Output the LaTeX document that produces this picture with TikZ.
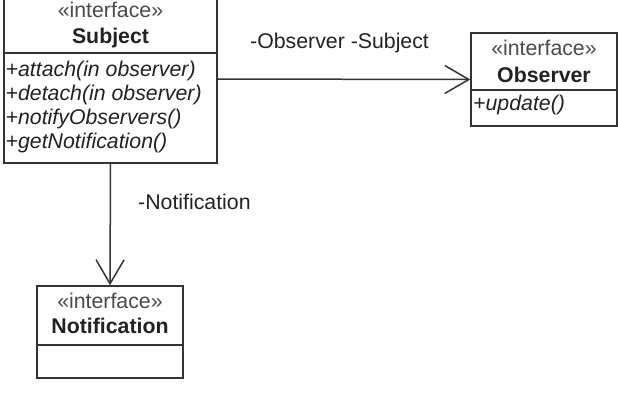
\documentclass[tikz,border=0pt]{standalone}
\usepackage{fontspec}
\setmainfont{Liberation Sans}
\usetikzlibrary{arrows.meta}
\definecolor{linegray}{HTML}{333333}
\definecolor{textgray}{HTML}{222222}
\definecolor{stereogray}{HTML}{4A4A4A}
\begin{document}
\begin{tikzpicture}[x=1pt,y=-1pt,
  font=\fontsize{21.3}{24}\selectfont,
  umlbox/.style={draw=linegray, line width=1.5pt, fill=white, inner sep=0pt},
  divider/.style={draw=linegray, line width=1.5pt},
  stereo/.style={anchor=base, inner sep=0pt, text=stereogray},
  cname/.style={anchor=base, inner sep=0pt, text=textgray, font=\fontsize{21.3}{24}\selectfont\bfseries},
  meth/.style={anchor=base west, inner sep=0pt, text=textgray, font=\fontsize{21.3}{24}\selectfont\itshape},
  lbl/.style={anchor=base west, inner sep=0pt, text=textgray},
  assoc/.style={draw=linegray, line width=1.5pt, -{Straight Barb[length=24pt, width=28pt, line width=1.5pt]}}
]
\useasboundingbox (0,0) rectangle (618,413);
% boxes
\node[umlbox, minimum width=213pt, minimum height=168pt] (subj) at (110.5,79) {};
\node[umlbox, minimum width=146pt, minimum height=93pt] (obs) at (544,79.5) {};
\node[umlbox, minimum width=146pt, minimum height=92pt] (notif) at (110,332) {};
% dividers
\draw[divider] (subj.west |- 0,53) -- (subj.east |- 0,53);
\draw[divider] (obs.west |- 0,90) -- (obs.east |- 0,90);
\draw[divider] (notif.west |- 0,345) -- (notif.east |- 0,345);
% Subject texts
\node[stereo] (subjst) at (110.5,17) {«interface»};
\node[cname] (subjname) at (110.5,43) {Subject};
\node[meth] (m1) at (5.5,76) {+attach(in observer)};
\node[meth] (m2) at (5.5,100) {+detach(in observer)};
\node[meth] (m3) at (5.5,124) {+notifyObservers()};
\node[meth] (m4) at (5.5,148) {+getNotification()};
% Observer texts
\node[stereo] (obsst) at (544,55) {«interface»};
\node[cname] (obsname) at (544,82) {Observer};
\node[meth] (m5) at (473,110) {+update()};
% Notification texts
\node[stereo] (notst) at (110,308) {«interface»};
\node[cname] (notname) at (110,333) {Notification};
% connectors
\draw[assoc] (subj.east) -- (obs.west);
\draw[assoc] (subj.south) -- (notif.north);
% labels
\node[lbl] (l1) at (250,48) {-Observer -Subject};
\node[lbl] (l2) at (138,209) {-Notification};
\end{tikzpicture}
\end{document}
